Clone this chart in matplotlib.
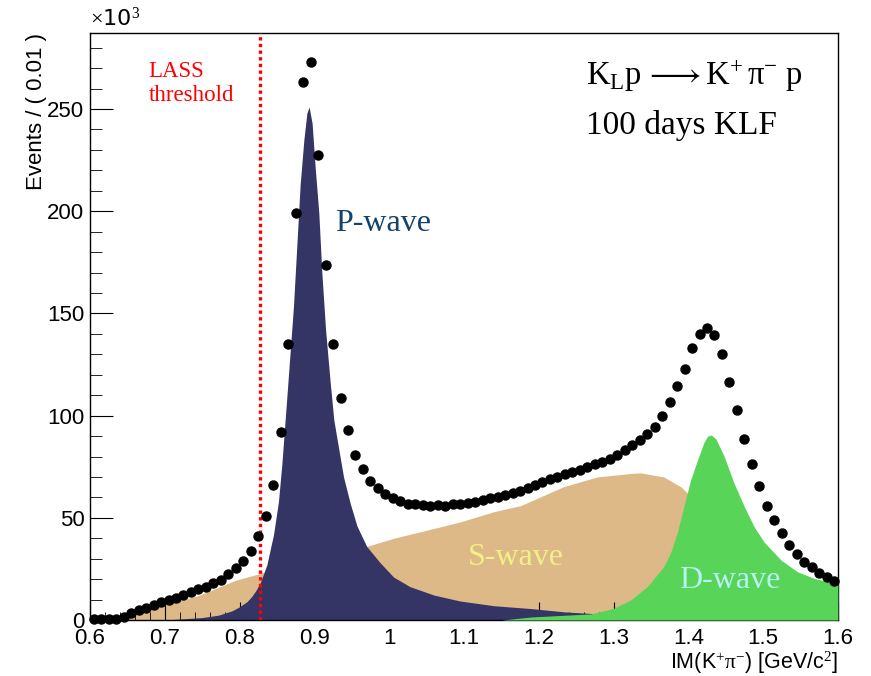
import numpy as np
import matplotlib.pyplot as plt
from matplotlib.ticker import MultipleLocator

plt.rcParams['font.family'] = ['Liberation Sans', 'DejaVu Sans']
plt.rcParams['mathtext.fontset'] = 'custom'
plt.rcParams['mathtext.rm'] = 'Liberation Serif'
plt.rcParams['mathtext.it'] = 'Liberation Serif:italic'

# data points, bin width 0.01 GeV, values in units of 10^3 events
bin_lo = 0.6
bin_width = 0.01
data_counts = [
    0.3, 0.3, 0.3, 0.5, 1.5, 3.5, 5.0, 6.0, 7.5, 9.0,
    10.0, 11.0, 12.2, 13.6, 15.0, 16.3, 18.0, 19.8, 22.3, 25.5,
    28.8, 33.7, 41.2, 51.0, 66.0, 92.0, 135.0, 199.0, 263.0, 273.0,
    227.5, 173.5, 135.0, 108.7, 93.0, 80.7, 73.7, 68.1, 64.4, 61.6,
    59.8, 58.3, 57.0, 56.7, 56.2, 55.9, 56.2, 55.9, 56.7, 57.0,
    57.4, 57.7, 58.7, 59.5, 60.2, 61.0, 62.0, 63.2, 64.5, 66.2,
    67.6, 68.8, 70.1, 71.3, 72.4, 73.6, 74.9, 76.1, 77.4, 79.0,
    80.7, 83.2, 85.5, 88.3, 91.2, 94.5, 100.0, 106.7, 114.4, 122.6,
    132.9, 139.7, 143.1, 139.4, 130.1, 116.5, 102.7, 88.8, 76.3, 65.7,
    55.9, 48.9, 42.4, 36.7, 32.3, 28.5, 25.8, 22.8, 20.9, 19.2,
]

# S-wave component
s_mass = [0.60, 0.64, 0.645, 0.655, 0.665, 0.675, 0.685, 0.695, 0.705, 0.715,
          0.725, 0.735, 0.745, 0.755, 0.765, 0.775, 0.785, 0.795, 0.805, 0.815,
          0.825, 0.85, 0.90, 0.95, 0.97, 1.006, 1.051, 1.095, 1.14, 1.176,
          1.233, 1.278, 1.323, 1.336, 1.367, 1.39, 1.399, 1.405, 1.415, 1.425,
          1.435, 1.445, 1.455, 1.465, 1.475, 1.485, 1.495, 1.505, 1.55, 1.60]
s_counts = [0.0, 0.0, 0.5, 2.0, 3.0, 4.5, 5.5, 7.0, 8.0, 9.0,
            10.0, 11.0, 12.0, 13.5, 15.0, 16.5, 18.0, 19.5, 20.5, 21.5,
            22.5, 25.5, 30.5, 35.0, 36.0, 40.0, 44.0, 48.0, 53.0, 56.0,
            65.2, 70.0, 71.7, 72.0, 70.0, 65.2, 62.0, 58.0, 53.0, 48.0,
            43.0, 39.0, 35.0, 32.0, 29.0, 26.0, 24.0, 22.0, 16.0, 12.0]

# P-wave component
p_mass = [0.60, 0.70, 0.72, 0.75, 0.772, 0.79, 0.80, 0.81, 0.816, 0.822,
          0.828, 0.8365, 0.8455, 0.852, 0.8565, 0.863, 0.868, 0.872, 0.877, 0.881,
          0.886, 0.890, 0.893, 0.897, 0.901, 0.906, 0.910, 0.915, 0.921, 0.926,
          0.932, 0.939, 0.948, 0.957, 0.970, 0.988, 1.006, 1.028, 1.06, 1.095,
          1.14, 1.19, 1.234, 1.27, 1.30, 1.35, 1.60]
p_counts = [0.0, 0.0, 0.5, 1.2, 2.4, 4.5, 6.5, 9.0, 11.4, 14.5,
            18.5, 27.0, 42.0, 58.0, 76.0, 108.0, 133.0, 153.0, 186.0, 213.0,
            235.0, 248.0, 251.0, 243.0, 222.0, 199.0, 170.0, 142.0, 117.0, 98.0,
            85.0, 70.0, 57.0, 46.0, 36.0, 28.0, 21.0, 16.3, 12.2, 9.3,
            7.0, 5.6, 4.0, 3.2, 2.5, 2.0, 1.0]

# D-wave component
d_mass = [0.60, 1.15, 1.19, 1.27, 1.30, 1.323, 1.345, 1.367, 1.376, 1.385,
          1.394, 1.403, 1.412, 1.421, 1.426, 1.431, 1.437, 1.448, 1.461, 1.475,
          1.488, 1.501, 1.524, 1.546, 1.568, 1.60]
d_counts = [0.0, 0.0, 1.5, 3.0, 5.7, 9.8, 16.3, 26.0, 32.6, 42.4,
            55.4, 68.5, 78.0, 87.0, 90.0, 90.5, 88.5, 80.0, 67.0, 55.4,
            45.6, 38.3, 29.3, 23.6, 20.4, 17.6]

lass_threshold = 0.8276

bin_centers = bin_lo + bin_width * (np.arange(len(data_counts)) + 0.5)

fig = plt.figure(figsize=(8.71, 6.76), dpi=100)
ax = fig.add_axes([0.1033, 0.0828, 0.8587, 0.8684])

ax.fill_between(s_mass, s_counts, color='#dcb987', linewidth=0, zorder=1)
ax.fill_between(p_mass, p_counts, color='#343465', linewidth=0, zorder=2)
ax.fill_between(d_mass, d_counts, color='#58d458', linewidth=0, zorder=3)

ax.axvline(lass_threshold, color='#ff0000', linestyle=(0, (1, 1)), linewidth=2.4, zorder=4)
ax.plot(bin_centers, data_counts, 'o', color='black', markersize=6.5, zorder=5, clip_on=False)

ax.set_xlim(0.6, 1.6)
ax.set_ylim(0, 287.2)

ax.xaxis.set_major_locator(MultipleLocator(0.1))
ax.xaxis.set_minor_locator(MultipleLocator(0.02))
ax.yaxis.set_major_locator(MultipleLocator(50))
ax.yaxis.set_minor_locator(MultipleLocator(10))
ax.xaxis.set_major_formatter(plt.FuncFormatter(lambda v, p: f'{v:g}'))
ax.tick_params(axis='both', which='both', direction='in', labelsize=16, top=False, right=False)
ax.tick_params(axis='x', which='major', length=13, pad=6)
ax.tick_params(axis='x', which='minor', length=6)
ax.tick_params(axis='y', which='major', length=16.5, pad=4)
ax.tick_params(axis='y', which='minor', length=8.5)
for sp in ax.spines.values():
    sp.set_linewidth(1.0)

ax.set_xlabel(r'IM(K$^{+}\mathrm{\pi}^{-}$) [GeV/c$^{2}$]', fontsize=15.5, loc='right')
ax.xaxis.set_label_coords(1.0, -0.0505)
ax.set_ylabel('Events / ( 0.01 )', fontsize=16, loc='top')
ax.yaxis.set_label_coords(-0.057, 1.0)
ax.text(0.0, 1.005, r'$\times$10$^{3}$', transform=ax.transAxes, fontsize=16,
        ha='left', va='bottom', family='DejaVu Sans')

serif = 'Liberation Serif'
ax.text(0.678, 262.5, 'LASS\nthreshold', color='#ff0000', fontsize=16.5, family=serif,
        ha='left', va='center', linespacing=1.15)
ax.text(0.928, 190.5, 'P-wave', color='#12436e', fontsize=23, family=serif, ha='left', va='baseline')
ax.text(1.1047, 27, 'S-wave', color='#f2f088', fontsize=23, family=serif, ha='left', va='baseline')
ax.text(1.387, 15.6, 'D-wave', color='#b6f2f2', fontsize=23, family=serif, ha='left', va='baseline')
ax.text(1.2627, 261.6, r'K$_{\mathrm{L}}$p$\,\longrightarrow$K$^{+}\,\mathrm{\pi}^{-}$ p', fontsize=23.5,
        family=serif, ha='left', va='baseline')
ax.text(1.2627, 238, '100 days KLF', fontsize=24, family=serif, ha='left', va='baseline')

fig.savefig('out.png', dpi=100)
